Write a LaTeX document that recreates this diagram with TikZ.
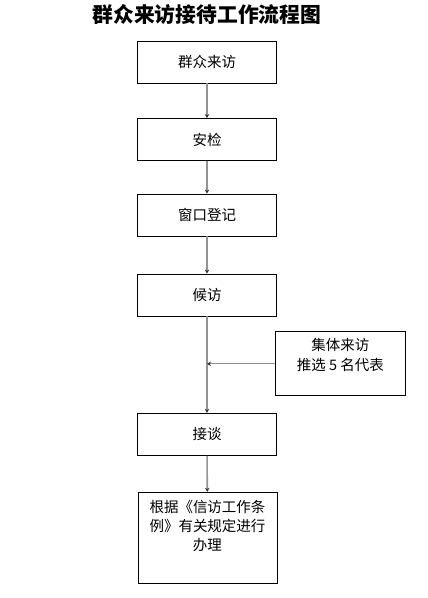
\documentclass[tikz,border=0pt]{standalone}
\usepackage{fontspec}
\newfontfamily\cjk{Noto Sans CJK SC}
\usetikzlibrary{arrows.meta,positioning}

\tikzset{
	stepbox/.style={draw, line width=0.9pt, minimum width=139pt, minimum height=42pt,
		inner sep=0pt, font=\cjk\fontsize{14.5}{19}\selectfont},
	flow/.style={draw=gray!85, line width=1.6pt,
		-{Stealth[length=4pt, width=4.5pt, color=black!80]}},
}

\begin{document}
\begin{tikzpicture}[x=1pt, y=-1pt]
	\useasboundingbox (0,0) rectangle (428,598);

	% title
	\node (title) at (207,15) {\cjk\bfseries\fontsize{20.8}{24}\selectfont 群众来访接待工作流程图};

	% main column
	\node[stepbox] (visit)    at (207,62)    {群众来访};
	\node[stepbox] (check)    at (207,139.5) {安检};
	\node[stepbox] (register) at (207,215)   {窗口登记};
	\node[stepbox] (wait)     at (207,295)   {候访};
	\node[stepbox] (talk)     at (207,434.3) {接谈};
	\node[stepbox, minimum height=91pt] (handle) at (207.5,537.8) {};
	\node[font=\cjk\fontsize{14.5}{19}\selectfont, align=center, below=5pt of handle.north]
		{根据《信访工作条\\例》有关规定进行\\办理};

	% group visits, on the right
	\node[stepbox, minimum width=130pt, minimum height=64pt] (group) at (340.3,363.8) {};
	\node[font=\cjk\fontsize{14.5}{20}\selectfont, align=center, below=3pt of group.north]
		{集体来访\\推选 5 名代表};

	% arrows
	\draw[flow] (visit) -- (check);
	\draw[flow] (check) -- (register);
	\draw[flow] (register) -- (wait);
	\draw[flow] (wait) -- (talk);
	\draw[flow] (talk) -- (handle);
	\draw[flow, line width=1.3pt] (group.west) -- (group.west -| wait.south);
\end{tikzpicture}
\end{document}
